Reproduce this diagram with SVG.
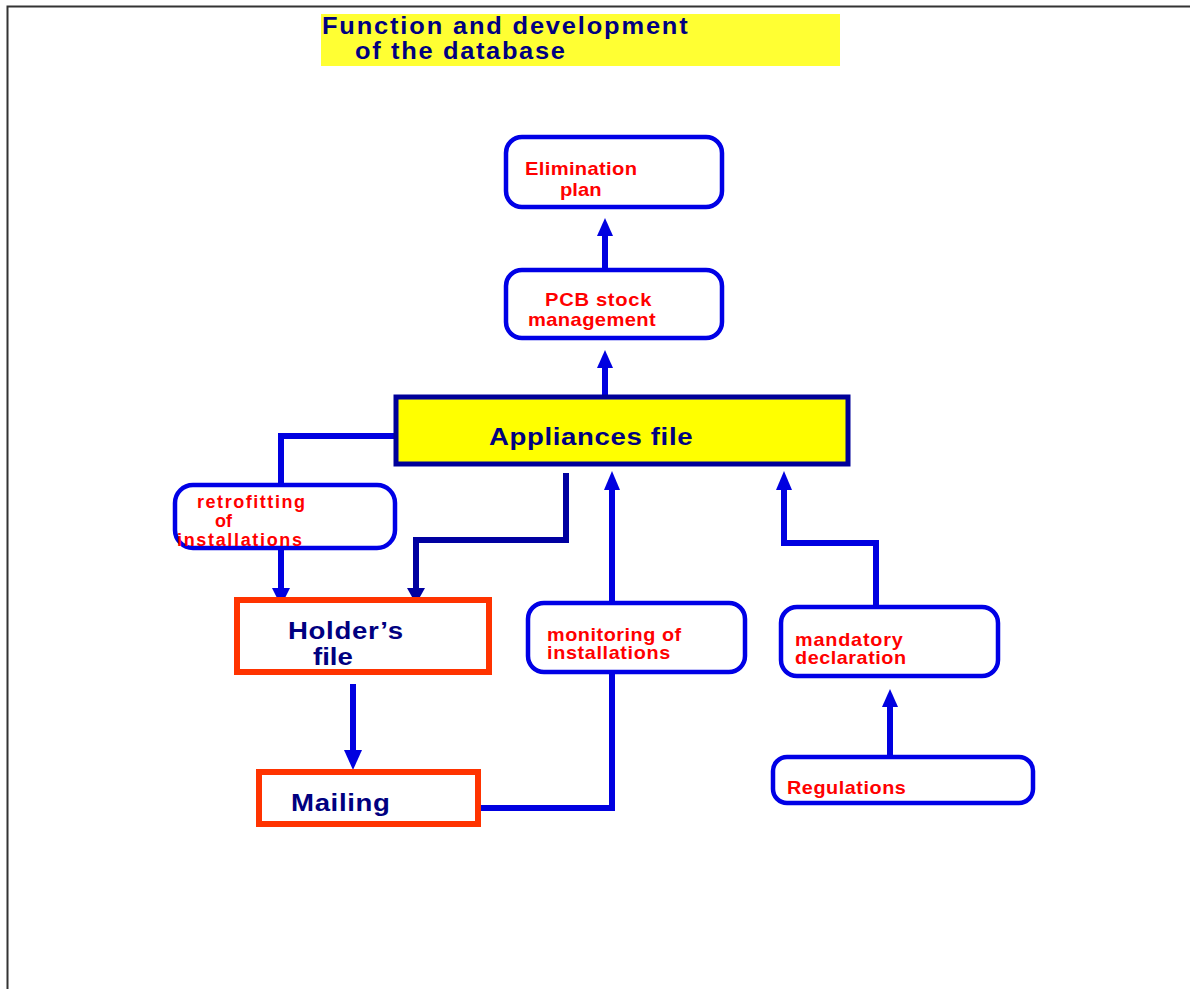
<svg xmlns="http://www.w3.org/2000/svg" width="1190" height="989" viewBox="0 0 1190 989">
<style>
.rb{fill:#fff;stroke:#0000E6;stroke-width:4.5}
.ob{fill:#fff;stroke:#FF3300;stroke-width:6}
.rt{font-family:"Liberation Sans",Arial,sans-serif;font-weight:bold;fill:#FF0000;font-size:18px}
.nt{font-family:"Liberation Sans",Arial,sans-serif;font-weight:bold;fill:#000080;font-size:24px}
.ln{fill:none;stroke:#0000E0;stroke-width:6}
.ah{fill:#0000E0}
</style>
<rect width="1190" height="989" fill="#fff"/>
<path d="M7.5 989 V6.5 H1190" fill="none" stroke="#333" stroke-width="2"/>
<g id="title">
<rect x="321" y="14" width="519" height="52" fill="#FFFF33"/>
<text class="nt" transform="translate(322 34) scale(1.06 1)" textLength="345" lengthAdjust="spacing">Function and development</text>
<text class="nt" transform="translate(355 59) scale(1.06 1)" textLength="198" lengthAdjust="spacing">of the database</text>
</g>
<g id="connectors">
<path class="ln" d="M605 268 V234"/>
<polygon class="ah" points="597,236 613,236 605,218"/>
<path class="ln" d="M605 400 V366"/>
<polygon class="ah" points="597,368 613,368 605,350"/>
<path class="ln" d="M396 436 H281 V487"/>
<path class="ln" d="M281 548 V590"/>
<polygon class="ah" points="272,588 290,588 281,606"/>
<path class="ln" d="M566 473 V540 H416 V590" style="stroke:#0000A0"/>
<polygon points="407,588 425,588 416,604" fill="#0000A0"/>
<path class="ln" d="M478 808 H612 V488"/>
<polygon class="ah" points="604,490 620,490 612,471"/>
<path class="ln" d="M876 610 V543 H784 V488"/>
<polygon class="ah" points="776,490 792,490 784,471"/>
<path class="ln" d="M890 760 V705"/>
<polygon class="ah" points="882,707 898,707 890,689"/>
<path class="ln" d="M353 684 V752"/>
<polygon class="ah" points="344,750 362,750 353,770"/>
</g>
<g id="elimination">
<rect class="rb" x="506" y="137" width="216" height="70" rx="16"/>
<text class="rt" transform="translate(525 175) scale(1.12 1)" textLength="100" lengthAdjust="spacing">Elimination</text>
<text class="rt" transform="translate(560 196) scale(1.12 1)">plan</text>
</g>
<g id="pcb">
<rect class="rb" x="506" y="270" width="216" height="68" rx="16"/>
<text class="rt" transform="translate(545 306) scale(1.12 1)" textLength="95" lengthAdjust="spacing">PCB stock</text>
<text class="rt" transform="translate(528 326) scale(1.12 1)" textLength="114" lengthAdjust="spacing">management</text>
</g>
<g id="appliances">
<rect x="396" y="397" width="452" height="67" fill="#FFFF00" stroke="#000099" stroke-width="5"/>
<text class="nt" transform="translate(489 445) scale(1.15 1)" textLength="177" lengthAdjust="spacing">Appliances file</text>
</g>
<g id="retrofitting">
<rect class="rb" x="175" y="485" width="220" height="63" rx="18"/>
<text class="rt" transform="translate(197 508)" textLength="108" lengthAdjust="spacing">retrofitting</text>
<text class="rt" transform="translate(215 527)">of</text>
<text class="rt" transform="translate(177 546)" textLength="125" lengthAdjust="spacing">installations</text>
</g>
<g id="holder">
<rect class="ob" x="237" y="600" width="252" height="72"/>
<text class="nt" transform="translate(288 639) scale(1.15 1)" textLength="100" lengthAdjust="spacing">Holder’s</text>
<text class="nt" transform="translate(313 665) scale(1.15 1)">file</text>
</g>
<g id="mailing">
<rect class="ob" x="259" y="772" width="219" height="52"/>
<text class="nt" transform="translate(291 811) scale(1.15 1)" textLength="86" lengthAdjust="spacing">Mailing</text>
</g>
<g id="monitoring">
<rect class="rb" x="528" y="603" width="217" height="69" rx="16"/>
<text class="rt" transform="translate(547 641) scale(1.1 1)" textLength="122" lengthAdjust="spacing">monitoring of</text>
<text class="rt" transform="translate(547 659) scale(1.1 1)" textLength="112" lengthAdjust="spacing">installations</text>
</g>
<g id="mandatory">
<rect class="rb" x="781" y="607" width="217" height="69" rx="16"/>
<text class="rt" transform="translate(795 646) scale(1.1 1)" textLength="98" lengthAdjust="spacing">mandatory</text>
<text class="rt" transform="translate(795 664) scale(1.1 1)" textLength="101" lengthAdjust="spacing">declaration</text>
</g>
<g id="regulations">
<rect class="rb" x="773" y="757" width="260" height="46" rx="14"/>
<text class="rt" transform="translate(787 794) scale(1.1 1)" textLength="108" lengthAdjust="spacing">Regulations</text>
</g>
</svg>
